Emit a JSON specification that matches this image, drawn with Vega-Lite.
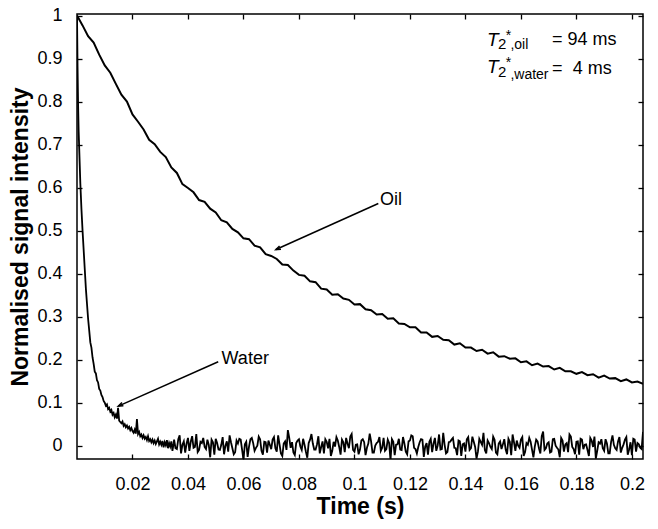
{
  "$schema": "https://vega.github.io/schema/vega-lite/v6.json",
  "autosize": {"type": "none"},
  "width": 566,
  "height": 445,
  "padding": {"left": 77, "top": 14, "right": 15, "bottom": 70},
  "background": "white",
  "config": {
    "view": {"stroke": "black", "strokeWidth": 1.5},
    "font": "Liberation Sans",
    "axis": {"grid": false, "domain": false, "tickColor": "black", "tickWidth": 1.3, "labelColor": "black", "titleColor": "black", "labelFont": "Liberation Sans", "titleFont": "Liberation Sans"}
  },
  "resolve": {"axis": {"x": "independent", "y": "independent"}},
  "layer": [
    {
      "data": {"values": [
        {"t":0,"v":1},{"t":0.0002,"v":0.88},{"t":0.0004,"v":0.79},{"t":0.0006,"v":0.73},{"t":0.0008,"v":0.69},
        {"t":0.0012,"v":0.61},{"t":0.0016,"v":0.55},{"t":0.002,"v":0.5},{"t":0.0024,"v":0.455},{"t":0.0028,"v":0.41},
        {"t":0.0032,"v":0.365},{"t":0.0036,"v":0.33},{"t":0.004,"v":0.295},{"t":0.0044,"v":0.268},{"t":0.0048,"v":0.24},
        {"t":0.0052,"v":0.228},{"t":0.0056,"v":0.205},{"t":0.006,"v":0.19},{"t":0.0064,"v":0.172},{"t":0.0068,"v":0.168},
        {"t":0.0072,"v":0.152},{"t":0.0076,"v":0.147},{"t":0.008,"v":0.132},{"t":0.0084,"v":0.128},{"t":0.0088,"v":0.118},
        {"t":0.0092,"v":0.113},{"t":0.0096,"v":0.104},{"t":0.01,"v":0.1},{"t":0.0104,"v":0.093},{"t":0.0108,"v":0.096},
        {"t":0.0112,"v":0.085},{"t":0.0116,"v":0.088},{"t":0.012,"v":0.079},{"t":0.0124,"v":0.083},{"t":0.0128,"v":0.072},
        {"t":0.0132,"v":0.076},{"t":0.0136,"v":0.066},{"t":0.014,"v":0.072},{"t":0.0144,"v":0.063},{"t":0.0148,"v":0.088},
        {"t":0.0152,"v":0.058},{"t":0.0156,"v":0.055},{"t":0.016,"v":0.052},{"t":0.0164,"v":0.056},{"t":0.0168,"v":0.046},
        {"t":0.0172,"v":0.05},{"t":0.0176,"v":0.043},{"t":0.018,"v":0.047},{"t":0.0184,"v":0.04},{"t":0.0188,"v":0.044},
        {"t":0.0192,"v":0.036},{"t":0.0196,"v":0.041},{"t":0.02,"v":0.034},{"t":0.0204,"v":0.03},{"t":0.0208,"v":0.037},
        {"t":0.0212,"v":0.028},{"t":0.0216,"v":0.062},{"t":0.022,"v":0.027},{"t":0.0224,"v":0.032},{"t":0.0228,"v":0.022},
        {"t":0.0232,"v":0.026},{"t":0.0236,"v":0.018},{"t":0.024,"v":0.024},{"t":0.0244,"v":0.016},{"t":0.0248,"v":0.02},
        {"t":0.0252,"v":0.013},{"t":0.0256,"v":0.022},{"t":0.026,"v":0.011},{"t":0.0264,"v":0.015},{"t":0.0268,"v":0.008},
        {"t":0.0272,"v":0.014},{"t":0.0276,"v":0.006},{"t":0.028,"v":0.012},{"t":0.0284,"v":0.004},{"t":0.0288,"v":0.01},
        {"t":0.0292,"v":0.016},{"t":0.0296,"v":0.003},{"t":0.03,"v":0.009},{"t":0.0304,"v":0.002},{"t":0.0308,"v":0.011},
        {"t":0.0312,"v":-0.004},{"t":0.0316,"v":0.008},{"t":0.032,"v":0.001},{"t":0.0324,"v":0.013},{"t":0.0328,"v":-0.006},
        {"t":0.0332,"v":0.006},{"t":0.0336,"v":-0.002},{"t":0.034,"v":0.01},{"t":0.0344,"v":-0.012},{"t":0.0348,"v":0.004},
        {"t":0.035,"v":0.014},{"t":0.036,"v":-0.008},{"t":0.037,"v":0.024},{"t":0.038,"v":0.002},{"t":0.039,"v":-0.016},
        {"t":0.04,"v":0.018},{"t":0.041,"v":0.009},{"t":0.042,"v":-0.005},{"t":0.043,"v":0.027},{"t":0.044,"v":-0.01},
        {"t":0.045,"v":0.006},{"t":0.046,"v":-0.003},{"t":0.047,"v":0.014},{"t":0.048,"v":-0.027},{"t":0.049,"v":0.008},
        {"t":0.05,"v":0.016},{"t":0.051,"v":-0.009},{"t":0.052,"v":0.002},{"t":0.053,"v":-0.02},{"t":0.054,"v":0.01},
        {"t":0.055,"v":0.024},{"t":0.056,"v":-0.006},{"t":0.057,"v":-0.015},{"t":0.058,"v":0.005},{"t":0.059,"v":0.014},
        {"t":0.06,"v":-0.033},{"t":0.061,"v":0.009},{"t":0.062,"v":-0.002},{"t":0.063,"v":0.018},{"t":0.064,"v":-0.012},
        {"t":0.065,"v":0},{"t":0.066,"v":0.015},{"t":0.067,"v":-0.021},{"t":0.068,"v":0.008},{"t":0.069,"v":0.012},
        {"t":0.07,"v":-0.008},{"t":0.071,"v":0.02},{"t":0.072,"v":-0.014},{"t":0.073,"v":0.003},{"t":0.074,"v":-0.024},
        {"t":0.075,"v":0.01},{"t":0.076,"v":0.036},{"t":0.077,"v":-0.005},{"t":0.078,"v":-0.016},{"t":0.079,"v":0.006},
        {"t":0.08,"v":0.015},{"t":0.081,"v":-0.01},{"t":0.082,"v":0.002},{"t":0.083,"v":-0.028},{"t":0.084,"v":0.014},
        {"t":0.085,"v":0.005},{"t":0.086,"v":-0.009},{"t":0.087,"v":0.022},{"t":0.088,"v":-0.003},{"t":0.089,"v":-0.018},
        {"t":0.09,"v":0.009},{"t":0.091,"v":0.016},{"t":0.092,"v":-0.012},{"t":0.093,"v":-0.002},{"t":0.094,"v":0.012},
        {"t":0.095,"v":-0.021},{"t":0.096,"v":0.008},{"t":0.097,"v":0.018},{"t":0.098,"v":-0.006},{"t":0.099,"v":0.027},
        {"t":0.1,"v":-0.014},{"t":0.101,"v":0.003},{"t":0.102,"v":-0.009},{"t":0.103,"v":0.015},{"t":0.104,"v":-0.022},
        {"t":0.105,"v":0.005},{"t":0.106,"v":0.01},{"t":0.107,"v":-0.016},{"t":0.108,"v":0.006},{"t":0.109,"v":0.02},
        {"t":0.11,"v":-0.005},{"t":0.111,"v":-0.012},{"t":0.112,"v":0.014},{"t":0.113,"v":-0.034},{"t":0.114,"v":0.009},
        {"t":0.115,"v":0.002},{"t":0.116,"v":0.016},{"t":0.117,"v":-0.01},{"t":0.118,"v":0.005},{"t":0.119,"v":-0.02},
        {"t":0.12,"v":0.012},{"t":0.121,"v":0.022},{"t":0.122,"v":-0.008},{"t":0.123,"v":-0.003},{"t":0.124,"v":0.015},
        {"t":0.125,"v":-0.026},{"t":0.126,"v":0.006},{"t":0.127,"v":0.009},{"t":0.128,"v":-0.015},{"t":0.129,"v":0.018},
        {"t":0.13,"v":0},{"t":0.131,"v":-0.009},{"t":0.132,"v":0.03},{"t":0.133,"v":-0.018},{"t":0.134,"v":0.008},
        {"t":0.135,"v":0.014},{"t":0.136,"v":-0.005},{"t":0.137,"v":-0.022},{"t":0.138,"v":0.01},{"t":0.139,"v":0.003},
        {"t":0.14,"v":-0.014},{"t":0.141,"v":0.02},{"t":0.142,"v":-0.006},{"t":0.143,"v":0.009},{"t":0.144,"v":-0.03},
        {"t":0.145,"v":0.016},{"t":0.146,"v":0.002},{"t":0.147,"v":-0.01},{"t":0.148,"v":0.012},{"t":0.149,"v":-0.003},
        {"t":0.15,"v":0.021},{"t":0.151,"v":-0.016},{"t":0.152,"v":0.005},{"t":0.153,"v":-0.008},{"t":0.154,"v":0.015},
        {"t":0.155,"v":-0.02},{"t":0.156,"v":0.009},{"t":0.157,"v":0.026},{"t":0.158,"v":-0.012},{"t":0.159,"v":0},
        {"t":0.16,"v":0.014},{"t":0.161,"v":-0.024},{"t":0.162,"v":0.006},{"t":0.163,"v":0.018},{"t":0.164,"v":-0.009},
        {"t":0.165,"v":-0.002},{"t":0.166,"v":0.01},{"t":0.167,"v":-0.018},{"t":0.168,"v":0.033},{"t":0.169,"v":-0.006},
        {"t":0.17,"v":0.008},{"t":0.171,"v":-0.014},{"t":0.172,"v":0.016},{"t":0.173,"v":-0.005},{"t":0.174,"v":-0.027},
        {"t":0.175,"v":0.012},{"t":0.176,"v":0.003},{"t":0.177,"v":-0.015},{"t":0.178,"v":0.021},{"t":0.179,"v":-0.008},
        {"t":0.18,"v":0.009},{"t":0.181,"v":-0.021},{"t":0.182,"v":0.014},{"t":0.183,"v":0.002},{"t":0.184,"v":-0.01},
        {"t":0.185,"v":0.018},{"t":0.186,"v":-0.003},{"t":0.187,"v":-0.03},{"t":0.188,"v":0.008},{"t":0.189,"v":0.015},
        {"t":0.19,"v":-0.012},{"t":0.191,"v":0.005},{"t":0.192,"v":-0.018},{"t":0.193,"v":0.024},{"t":0.194,"v":-0.006},
        {"t":0.195,"v":0.01},{"t":0.196,"v":-0.016},{"t":0.197,"v":0.003},{"t":0.198,"v":0.02},{"t":0.199,"v":-0.009},
        {"t":0.2,"v":-0.022},{"t":0.201,"v":0.014},{"t":0.202,"v":0.006},{"t":0.203,"v":-0.005},{"t":0.204,"v":0.032},
        {"t":0.0355,"v":-0.006},{"t":0.0365,"v":0.015},{"t":0.0375,"v":-0.018},{"t":0.0385,"v":0.01},{"t":0.0395,"v":0.005},
        {"t":0.0405,"v":-0.012},{"t":0.0415,"v":0.022},{"t":0.0425,"v":-0.003},{"t":0.0435,"v":-0.015},{"t":0.0445,"v":0.009},
        {"t":0.0455,"v":0.018},{"t":0.0465,"v":-0.008},{"t":0.0475,"v":0.002},{"t":0.0485,"v":0.014},{"t":0.0495,"v":-0.021},
        {"t":0.0505,"v":0.006},{"t":0.0515,"v":-0.01},{"t":0.0525,"v":0.02},{"t":0.0535,"v":0},{"t":0.0545,"v":-0.014},
        {"t":0.0555,"v":0.008},{"t":0.0565,"v":-0.02},{"t":0.0575,"v":0.012},{"t":0.0585,"v":0.016},{"t":0.0595,"v":-0.009},
        {"t":0.0605,"v":0.003},{"t":0.0615,"v":-0.026},{"t":0.0625,"v":0.015},{"t":0.0635,"v":0.006},{"t":0.0645,"v":-0.005},
        {"t":0.0655,"v":0.021},{"t":0.0665,"v":-0.012},{"t":0.0675,"v":0.009},{"t":0.0685,"v":-0.016},{"t":0.0695,"v":0.002},
        {"t":0.0705,"v":0.014},{"t":0.0715,"v":-0.006},{"t":0.0725,"v":0.024},{"t":0.0735,"v":-0.018},{"t":0.0745,"v":0.005},
        {"t":0.0755,"v":-0.01},{"t":0.0765,"v":0.018},{"t":0.0775,"v":0.008},{"t":0.0785,"v":-0.022},{"t":0.0795,"v":0.012},
        {"t":0.0805,"v":-0.002},{"t":0.0815,"v":0.016},{"t":0.0825,"v":-0.014},{"t":0.0835,"v":0.006},{"t":0.0845,"v":0.027},
        {"t":0.0855,"v":-0.009},{"t":0.0865,"v":0.003},{"t":0.0875,"v":-0.018},{"t":0.0885,"v":0.01},{"t":0.0895,"v":0.015},
        {"t":0.0905,"v":-0.006},{"t":0.0915,"v":-0.024},{"t":0.0925,"v":0.009},{"t":0.0935,"v":0.02},{"t":0.0945,"v":-0.003},
        {"t":0.0955,"v":0.014},{"t":0.0965,"v":-0.015},{"t":0.0975,"v":0.005},{"t":0.0985,"v":0.021},{"t":0.0995,"v":-0.01},
        {"t":0.1005,"v":0.002},{"t":0.1015,"v":-0.02},{"t":0.1025,"v":0.012},{"t":0.1035,"v":0.008},{"t":0.1045,"v":-0.005},
        {"t":0.1055,"v":0.028},{"t":0.1065,"v":-0.016},{"t":0.1075,"v":0},{"t":0.1085,"v":0.009},{"t":0.1095,"v":-0.012},
        {"t":0.1105,"v":0.018},{"t":0.1115,"v":-0.008},{"t":0.1125,"v":0.006},{"t":0.1135,"v":0.015},{"t":0.1145,"v":-0.022},
        {"t":0.1155,"v":0.003},{"t":0.1165,"v":-0.009},{"t":0.1175,"v":0.02},{"t":0.1185,"v":-0.014},{"t":0.1195,"v":0.01},
        {"t":0.1205,"v":0.024},{"t":0.1215,"v":-0.005},{"t":0.1225,"v":-0.018},{"t":0.1235,"v":0.008},{"t":0.1245,"v":0.014},
        {"t":0.1255,"v":-0.002},{"t":0.1265,"v":-0.021},{"t":0.1275,"v":0.016},{"t":0.1285,"v":0.005},{"t":0.1295,"v":-0.012},
        {"t":0.1305,"v":0.026},{"t":0.1315,"v":-0.008},{"t":0.1325,"v":0.002},{"t":0.1335,"v":-0.015},{"t":0.1345,"v":0.009},
        {"t":0.1355,"v":0.018},{"t":0.1365,"v":-0.006},{"t":0.1375,"v":0.012},{"t":0.1385,"v":-0.024},{"t":0.1395,"v":0.005},
        {"t":0.1405,"v":0.015},{"t":0.1415,"v":-0.01},{"t":0.1425,"v":0.021},{"t":0.1435,"v":-0.003},{"t":0.1445,"v":-0.014},
        {"t":0.1455,"v":0.009},{"t":0.1465,"v":0.03},{"t":0.1475,"v":-0.018},{"t":0.1485,"v":0.006},{"t":0.1495,"v":-0.008},
        {"t":0.1505,"v":0.014},{"t":0.1515,"v":-0.02},{"t":0.1525,"v":0.01},{"t":0.1535,"v":0.003},{"t":0.1545,"v":-0.009},
        {"t":0.1555,"v":0.016},{"t":0.1565,"v":-0.022},{"t":0.1575,"v":0.008},{"t":0.1585,"v":0.012},{"t":0.1595,"v":-0.005},
        {"t":0.1605,"v":0.02},{"t":0.1615,"v":-0.015},{"t":0.1625,"v":0.002},{"t":0.1635,"v":0.009},{"t":0.1645,"v":-0.027},
        {"t":0.1655,"v":0.014},{"t":0.1665,"v":-0.006},{"t":0.1675,"v":0.022},{"t":0.1685,"v":-0.01},{"t":0.1695,"v":0.005},
        {"t":0.1705,"v":-0.016},{"t":0.1715,"v":0.015},{"t":0.1725,"v":0},{"t":0.1735,"v":-0.009},{"t":0.1745,"v":0.018},
        {"t":0.1755,"v":-0.014},{"t":0.1765,"v":0.006},{"t":0.1775,"v":0.026},{"t":0.1785,"v":-0.003},{"t":0.1795,"v":-0.02},
        {"t":0.1805,"v":0.01},{"t":0.1815,"v":0.016},{"t":0.1825,"v":-0.008},{"t":0.1835,"v":0.003},{"t":0.1845,"v":-0.024},
        {"t":0.1855,"v":0.012},{"t":0.1865,"v":0.021},{"t":0.1875,"v":-0.012},{"t":0.1885,"v":0.005},{"t":0.1895,"v":-0.006},
        {"t":0.1905,"v":0.015},{"t":0.1915,"v":-0.018},{"t":0.1925,"v":0.009},{"t":0.1935,"v":0.002},{"t":0.1945,"v":-0.01},
        {"t":0.1955,"v":0.02},{"t":0.1965,"v":-0.005},{"t":0.1975,"v":0.014},{"t":0.1985,"v":-0.021},{"t":0.1995,"v":0.008},
        {"t":0.2005,"v":0.016},{"t":0.2015,"v":-0.014},{"t":0.2025,"v":0.003},{"t":0.2035,"v":-0.008}
      ]},
      "mark": {"type": "line", "color": "black", "strokeWidth": 1.8, "clip": true},
      "encoding": {
        "x": {"field": "t", "type": "quantitative", "scale": {"domain": [0, 0.204], "nice": false, "zero": false},
              "axis": {"orient": "bottom", "values": [0.02,0.04,0.06,0.08,0.1,0.12,0.14,0.16,0.18,0.2], "format": ".2~f",
                       "title": "Time (s)", "tickSize": -5, "labelPadding": 21, "labelFontSize": 18, "titleFontSize": 23, "titleFontWeight": "bold", "titlePadding": 2}},
        "y": {"field": "v", "type": "quantitative", "scale": {"domain": [-0.031, 1.0035], "nice": false, "zero": false},
              "axis": {"orient": "left", "values": [0,0.1,0.2,0.3,0.4,0.5,0.6,0.7,0.8,0.9,1], "format": ".1~f",
                       "title": "Normalised signal intensity", "tickSize": -5, "labelPadding": 20, "labelFontSize": 18, "titleFontSize": 23, "titleFontWeight": "bold", "titlePadding": 4}}
      }
    },
    {
      "data": {"values": [
        {"t":0,"v":1},{"t":0.002,"v":0.977},{"t":0.004,"v":0.952},{"t":0.006,"v":0.937},{"t":0.008,"v":0.909},
        {"t":0.01,"v":0.884},{"t":0.012,"v":0.867},{"t":0.014,"v":0.841},{"t":0.016,"v":0.816},{"t":0.018,"v":0.8},
        {"t":0.02,"v":0.77},{"t":0.022,"v":0.753},{"t":0.024,"v":0.735},{"t":0.026,"v":0.711},{"t":0.028,"v":0.701},
        {"t":0.03,"v":0.683},{"t":0.032,"v":0.671},{"t":0.034,"v":0.647},{"t":0.036,"v":0.634},{"t":0.038,"v":0.608},
        {"t":0.04,"v":0.599},{"t":0.042,"v":0.589},{"t":0.044,"v":0.571},{"t":0.046,"v":0.567},{"t":0.048,"v":0.551},
        {"t":0.05,"v":0.542},{"t":0.052,"v":0.524},{"t":0.054,"v":0.519},{"t":0.056,"v":0.504},{"t":0.058,"v":0.496},
        {"t":0.06,"v":0.482},{"t":0.062,"v":0.48},{"t":0.064,"v":0.465},{"t":0.066,"v":0.461},{"t":0.068,"v":0.445},
        {"t":0.07,"v":0.441},{"t":0.072,"v":0.434},{"t":0.074,"v":0.421},{"t":0.076,"v":0.42},{"t":0.078,"v":0.407},
        {"t":0.08,"v":0.397},{"t":0.082,"v":0.395},{"t":0.084,"v":0.382},{"t":0.086,"v":0.38},{"t":0.088,"v":0.365},
        {"t":0.09,"v":0.363},{"t":0.092,"v":0.351},{"t":0.094,"v":0.352},{"t":0.096,"v":0.342},{"t":0.098,"v":0.339},
        {"t":0.1,"v":0.328},{"t":0.102,"v":0.329},{"t":0.104,"v":0.317},{"t":0.106,"v":0.315},{"t":0.108,"v":0.305},
        {"t":0.11,"v":0.306},{"t":0.112,"v":0.295},{"t":0.114,"v":0.296},{"t":0.116,"v":0.284},{"t":0.118,"v":0.283},
        {"t":0.12,"v":0.275},{"t":0.122,"v":0.275},{"t":0.124,"v":0.263},{"t":0.126,"v":0.263},{"t":0.128,"v":0.253},
        {"t":0.13,"v":0.255},{"t":0.132,"v":0.246},{"t":0.134,"v":0.245},{"t":0.136,"v":0.235},{"t":0.138,"v":0.238},
        {"t":0.14,"v":0.228},{"t":0.142,"v":0.228},{"t":0.144,"v":0.22},{"t":0.146,"v":0.223},{"t":0.148,"v":0.214},
        {"t":0.15,"v":0.217},{"t":0.152,"v":0.207},{"t":0.154,"v":0.208},{"t":0.156,"v":0.202},{"t":0.158,"v":0.203},
        {"t":0.16,"v":0.194},{"t":0.162,"v":0.196},{"t":0.164,"v":0.187},{"t":0.166,"v":0.191},{"t":0.168,"v":0.184},
        {"t":0.17,"v":0.185},{"t":0.172,"v":0.177},{"t":0.174,"v":0.181},{"t":0.176,"v":0.173},{"t":0.178,"v":0.173},
        {"t":0.18,"v":0.167},{"t":0.182,"v":0.171},{"t":0.184,"v":0.164},{"t":0.186,"v":0.166},{"t":0.188,"v":0.158},
        {"t":0.19,"v":0.163},{"t":0.192,"v":0.156},{"t":0.194,"v":0.157},{"t":0.196,"v":0.15},{"t":0.198,"v":0.154},
        {"t":0.2,"v":0.147},{"t":0.202,"v":0.149},{"t":0.204,"v":0.144}
      ]},
      "mark": {"type": "line", "color": "black", "strokeWidth": 2, "clip": true},
      "encoding": {
        "x": {"field": "t", "type": "quantitative", "scale": {"domain": [0, 0.204], "nice": false, "zero": false},
              "axis": {"orient": "top", "values": [0.02,0.04,0.06,0.08,0.1,0.12,0.14,0.16,0.18,0.2], "labels": false, "title": null, "tickSize": -5}},
        "y": {"field": "v", "type": "quantitative", "scale": {"domain": [-0.031, 1.0035], "nice": false, "zero": false},
              "axis": {"orient": "right", "values": [0,0.1,0.2,0.3,0.4,0.5,0.6,0.7,0.8,0.9,1], "labels": false, "title": null, "tickSize": -5}}
      }
    },
    {
      "data": {"values": [
        {"t":0.1086,"v":0.563,"t2":0.0717,"v2":0.456},
        {"t":0.0509,"v":0.195,"t2":0.0149,"v2":0.092}
      ]},
      "mark": {"type": "rule", "color": "black", "strokeWidth": 1.5},
      "encoding": {
        "x": {"field": "t", "type": "quantitative", "axis": null},
        "y": {"field": "v", "type": "quantitative", "axis": null},
        "x2": {"field": "t2"},
        "y2": {"field": "v2"}
      }
    },
    {
      "data": {"values": [
        {"t":0.0717,"v":0.456},
        {"t":0.0149,"v":0.092}
      ]},
      "mark": {"type": "point", "shape": "M-0.35,0.95L0,0L0.35,0.95", "angle": 246, "size": 100, "filled": false, "stroke": "black", "strokeWidth": 1.5, "opacity": 1},
      "encoding": {
        "x": {"field": "t", "type": "quantitative", "axis": null},
        "y": {"field": "v", "type": "quantitative", "axis": null}
      }
    },
    {
      "data": {"values": [
        {"t":0.1478,"v":0.928},
        {"t":0.1478,"v":0.866}
      ]},
      "mark": {"type": "text", "text": "T", "fontStyle": "italic", "fontSize": 19, "align": "left", "baseline": "alphabetic", "color": "black"},
      "encoding": {
        "x": {"field": "t", "type": "quantitative", "axis": null},
        "y": {"field": "v", "type": "quantitative", "axis": null}
      }
    },
    {
      "data": {"values": [
        {"t":0.1517,"v":0.922},
        {"t":0.1517,"v":0.857}
      ]},
      "mark": {"type": "text", "text": "2", "fontSize": 15, "align": "left", "baseline": "alphabetic", "color": "black"},
      "encoding": {
        "x": {"field": "t", "type": "quantitative", "axis": null},
        "y": {"field": "v", "type": "quantitative", "axis": null}
      }
    },
    {
      "data": {"values": [
        {"t":0.1545,"v":0.944},
        {"t":0.1545,"v":0.88}
      ]},
      "mark": {"type": "text", "text": "*", "fontSize": 14, "align": "left", "baseline": "alphabetic", "color": "black"},
      "encoding": {
        "x": {"field": "t", "type": "quantitative", "axis": null},
        "y": {"field": "v", "type": "quantitative", "axis": null}
      }
    },
    {
      "data": {"values": [
        {"t":0.1562,"v":0.923,"label":",oil"},
        {"t":0.1562,"v":0.852,"label":",water"}
      ]},
      "mark": {"type": "text", "fontSize": 14, "align": "left", "baseline": "alphabetic", "color": "black"},
      "encoding": {
        "x": {"field": "t", "type": "quantitative", "axis": null},
        "y": {"field": "v", "type": "quantitative", "axis": null},
        "text": {"field": "label"}
      }
    },
    {
      "data": {"values": [
        {"t":0.1712,"v":0.931,"label":"= 94 ms"},
        {"t":0.1712,"v":0.865,"label":"="},
        {"t":0.1787,"v":0.865,"label":"4 ms"},
        {"t":0.1092,"v":0.559,"label":"Oil"},
        {"t":0.0521,"v":0.191,"label":"Water"}
      ]},
      "mark": {"type": "text", "fontSize": 18, "align": "left", "baseline": "alphabetic", "color": "black"},
      "encoding": {
        "x": {"field": "t", "type": "quantitative", "axis": null},
        "y": {"field": "v", "type": "quantitative", "axis": null},
        "text": {"field": "label"}
      }
    }
  ]
}
